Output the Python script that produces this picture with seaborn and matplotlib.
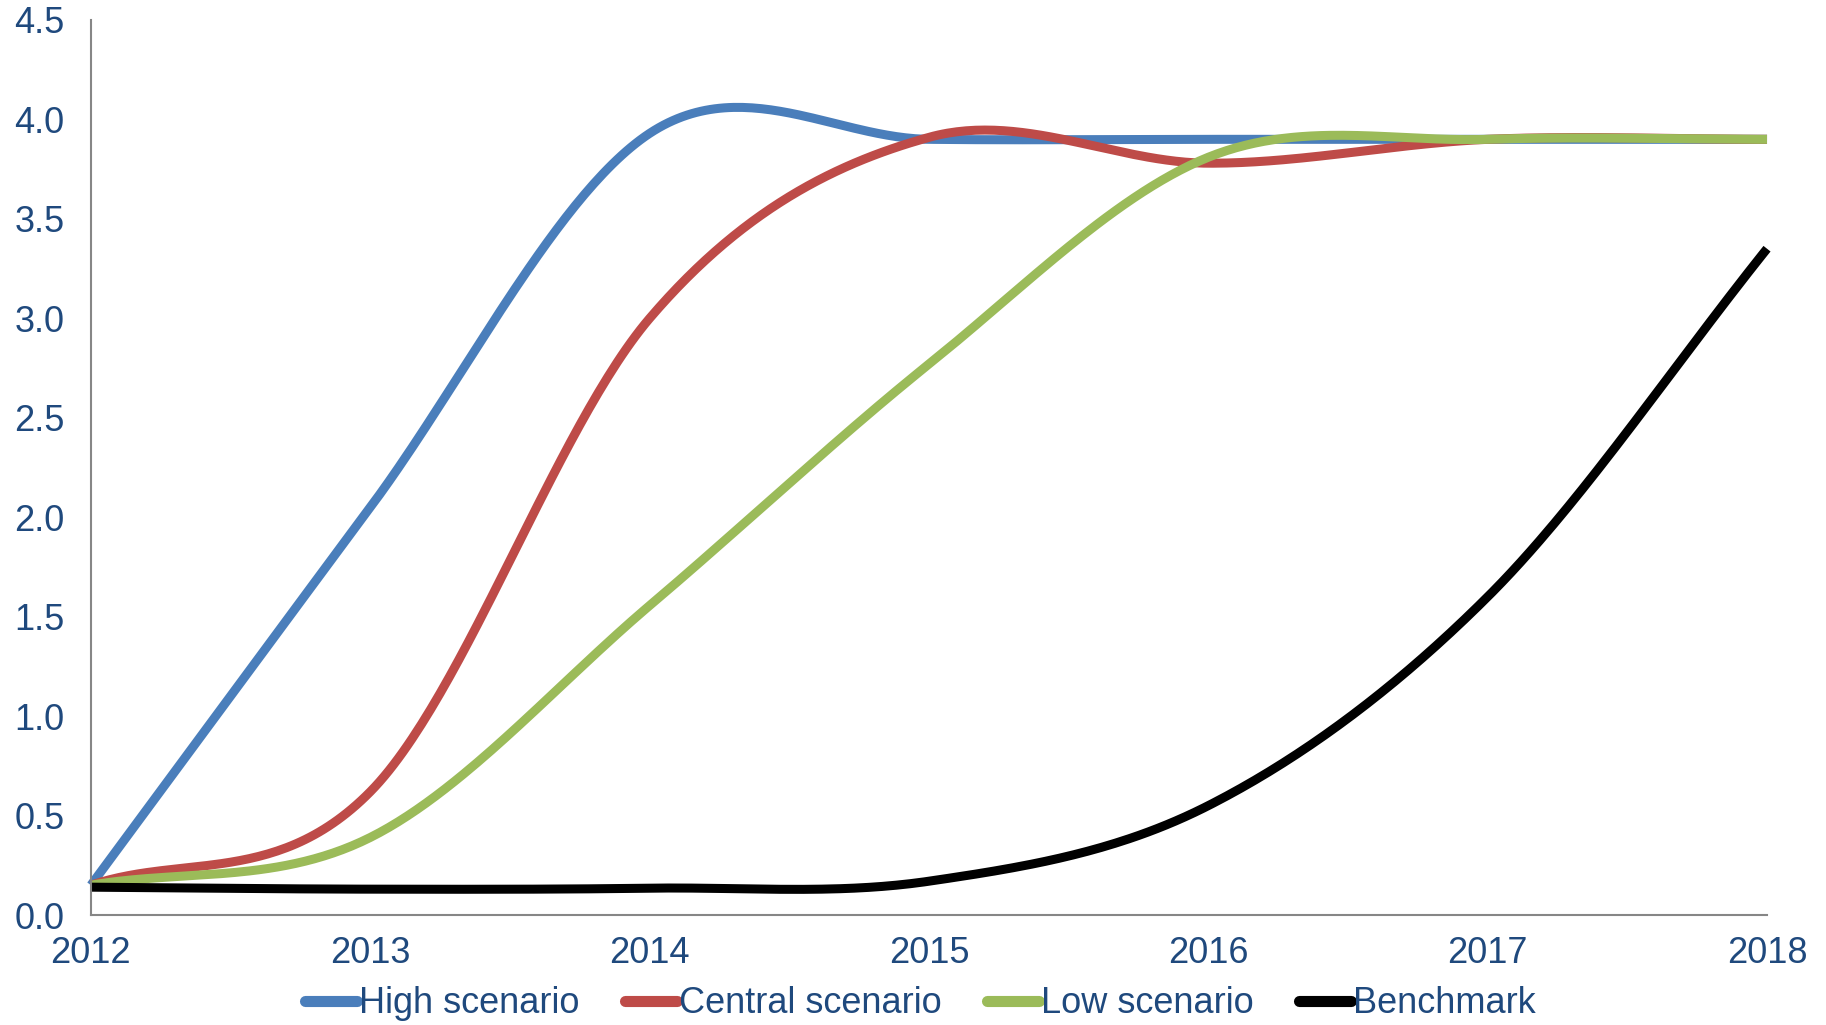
import numpy as np
import pandas as pd
import matplotlib
matplotlib.use("Agg")
import matplotlib.pyplot as plt
from matplotlib.lines import Line2D
import seaborn as sns

# Annual values of each series
years = [2012, 2013, 2014, 2015, 2016, 2017, 2018]
high_scenario = [0.15, 2.05, 3.93, 3.90, 3.90, 3.90, 3.90]
central_scenario = [0.15, 0.62, 3.00, 3.91, 3.78, 3.90, 3.90]
low_scenario = [0.15, 0.39, 1.556, 2.77, 3.81, 3.90, 3.90]
benchmark = [0.14, 0.13, 0.135, 0.17, 0.55, 1.60, 3.35]

series_names = ["High scenario", "Central scenario", "Low scenario", "Benchmark"]
series_values = [high_scenario, central_scenario, low_scenario, benchmark]
colors = ["#4A7EBB", "#BE4B48", "#9BBB59", "#000000"]
text_color = "#1F497D"
axis_color = "#868686"


def smooth(xs, ys, steps=60):
    """Cardinal spline through the points, like a smoothed line chart.

    Interior tangents use the neighbouring points; at the two ends the
    tangent follows the chord of the first/last segment."""
    xs = np.asarray(xs, float)
    ys = np.asarray(ys, float)
    n = len(xs)
    tang = np.empty(n)
    tang[0] = ys[1] - ys[0]
    tang[-1] = ys[-1] - ys[-2]
    tang[1:-1] = (ys[2:] - ys[:-2]) / 2.0
    out_x, out_y = [], []
    for i in range(n - 1):
        t = np.linspace(0, 1, steps, endpoint=(i == n - 2))
        h00 = 2 * t**3 - 3 * t**2 + 1
        h10 = t**3 - 2 * t**2 + t
        h01 = -2 * t**3 + 3 * t**2
        h11 = t**3 - t**2
        out_y.append(h00 * ys[i] + h10 * tang[i] + h01 * ys[i + 1] + h11 * tang[i + 1])
        out_x.append(xs[i] + t * (xs[i + 1] - xs[i]))
    return np.concatenate(out_x), np.concatenate(out_y)


frames = []
for name, vals in zip(series_names, series_values):
    sx, sy = smooth(years, vals)
    frames.append(pd.DataFrame({"year": sx, "value": sy, "series": name}))
df = pd.concat(frames, ignore_index=True)

sns.set_style("white")
plt.rcParams["font.family"] = ["Liberation Sans", "DejaVu Sans"]

fig = plt.figure(figsize=(18.26, 10.25), dpi=100)
ax = fig.add_axes([0.0498, 0.1073, 0.9179, 0.8732])

sns.lineplot(data=df, x="year", y="value", hue="series", hue_order=series_names,
             palette=colors, linewidth=6.5, sort=False, estimator=None,
             legend=False, ax=ax)
for line in ax.get_lines():
    line.set_solid_capstyle("butt")
    line.set_clip_on(False)

ax.set_xlim(2012, 2018)
ax.set_ylim(0, 4.5)
ax.set_xticks(years)
ax.set_xticklabels([str(y) for y in years])
ax.set_yticks(np.arange(0, 4.51, 0.5))
ax.set_yticklabels([f"{v:.1f}" for v in np.arange(0, 4.51, 0.5)])
ax.set_xlabel("")
ax.set_ylabel("")

for side in ["top", "right"]:
    ax.spines[side].set_visible(False)
for side in ["left", "bottom"]:
    ax.spines[side].set_color(axis_color)
    ax.spines[side].set_linewidth(1.5)

ax.tick_params(axis="both", which="major", direction="out", length=7, width=1.5,
               color=axis_color, labelsize=26, labelcolor=text_color)
ax.tick_params(axis="x", pad=8)
ax.tick_params(axis="y", pad=12)

handles = [Line2D([0], [0], color=c, linewidth=8, solid_capstyle="round")
           for c in colors]
leg = fig.legend(handles, series_names, loc="lower center", ncol=4,
                 bbox_to_anchor=(0.504, -0.028), frameon=False, fontsize=26,
                 handlelength=1.45, handletextpad=0.05, columnspacing=1.25,
                 labelcolor=text_color)

fig.savefig("out.png", dpi=100)
